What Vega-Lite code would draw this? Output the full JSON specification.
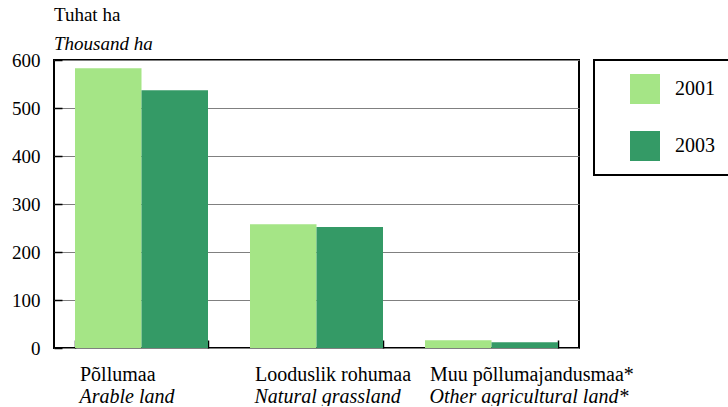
{
  "$schema": "https://vega.github.io/schema/vega-lite/v6.json",
  "width": 525,
  "height": 288,
  "padding": {"left": 11, "top": 6, "right": 0, "bottom": 0},
  "background": "white",
  "config": {
    "font": "Liberation Serif, serif",
    "view": {"stroke": "black", "strokeWidth": 2}
  },
  "title": {
    "text": "Tuhat ha",
    "subtitle": "Thousand ha",
    "anchor": "start",
    "frame": "group",
    "font": "Liberation Serif, serif",
    "fontSize": 19,
    "fontWeight": "normal",
    "subtitleFont": "Liberation Serif, serif",
    "subtitleFontSize": 19,
    "subtitleFontStyle": "italic",
    "subtitleColor": "black",
    "color": "black",
    "subtitlePadding": 10,
    "offset": -3
  },
  "data": {
    "values": [
      {"cat": "Põllumaa", "year": "2001", "value": 583},
      {"cat": "Põllumaa", "year": "2003", "value": 537},
      {"cat": "Looduslik rohumaa", "year": "2001", "value": 258},
      {"cat": "Looduslik rohumaa", "year": "2003", "value": 252},
      {"cat": "Muu põllumajandusmaa*", "year": "2001", "value": 16},
      {"cat": "Muu põllumajandusmaa*", "year": "2003", "value": 12}
    ]
  },
  "layer": [
    {
      "mark": {"type": "bar"},
      "encoding": {
        "x": {
          "field": "cat",
          "type": "nominal",
          "sort": ["Põllumaa", "Looduslik rohumaa", "Muu põllumajandusmaa*"],
          "scale": {"paddingInner": 0.24, "paddingOuter": 0.12},
          "axis": {
            "orient": "bottom",
            "title": null,
            "labelAngle": 0,
            "labelAlign": "left",
            "labelOffset": -62,
            "labelFont": "Liberation Serif, serif",
            "labelFontSize": 20,
            "labelColor": "black",
            "labelPadding": 24,
            "labelLimit": 400,
            "labelOverlap": false,
            "ticks": true,
            "tickBand": "extent",
            "tickSize": -8,
            "tickColor": "black",
            "tickWidth": 1.5,
            "domain": false,
            "labelBaseline": "top"
          }
        },
        "xOffset": {"field": "year", "type": "nominal", "scale": {"paddingInner": 0, "paddingOuter": 0}},
        "y": {
          "field": "value",
          "type": "quantitative",
          "scale": {"domain": [0, 600]},
          "axis": {
            "title": null,
            "values": [0, 100, 200, 300, 400, 500, 600],
            "labelFont": "Liberation Serif, serif",
            "labelFontSize": 19,
            "labelColor": "black",
            "labelPadding": 22,
            "ticks": true,
            "tickSize": -8,
            "tickColor": "black",
            "tickWidth": 1.5,
            "domain": false,
            "grid": true,
            "gridColor": "#808080",
            "gridWidth": 1
          }
        },
        "color": {
          "field": "year",
          "type": "nominal",
          "scale": {"domain": ["2001", "2003"], "range": ["#A5E586", "#349A66"]},
          "legend": {
            "title": null,
            "orient": "right",
            "offset": 15,
            "strokeColor": "black",
            "fillColor": "white",
            "padding": 14,
            "symbolType": "square",
            "symbolSize": 900,
            "symbolStrokeWidth": 0,
            "symbolOpacity": 1,
            "labelFont": "Liberation Serif, serif",
            "labelFontSize": 20,
            "labelColor": "black",
            "rowPadding": 27,
            "symbolOffset": 22,
            "labelOffset": 15,
            "encode": {"legend": {"update": {"strokeWidth": {"value": 2}}}}
          }
        }
      }
    },
    {
      "mark": {"type": "text", "opacity": 0},
      "encoding": {
        "x": {
          "field": "cat",
          "type": "nominal",
          "sort": ["Põllumaa", "Looduslik rohumaa", "Muu põllumajandusmaa*"],
          "axis": {
            "orient": "bottom",
            "title": null,
            "labelAngle": 0,
            "labelAlign": "left",
            "labelOffset": -62,
            "labelFont": "Liberation Serif, serif",
            "labelFontSize": 20,
            "labelFontStyle": "italic",
            "labelColor": "black",
            "labelPadding": 38,
            "labelLimit": 400,
            "labelOverlap": false,
            "ticks": false,
            "domain": false,
            "labelBaseline": "top",
            "labelExpr": "datum.value == 'Põllumaa' ? 'Arable land' : datum.value == 'Looduslik rohumaa' ? 'Natural grassland' : 'Other agricultural land*'"
          }
        },
        "text": {"value": " "}
      }
    }
  ],
  "resolve": {"axis": {"x": "independent"}}
}
